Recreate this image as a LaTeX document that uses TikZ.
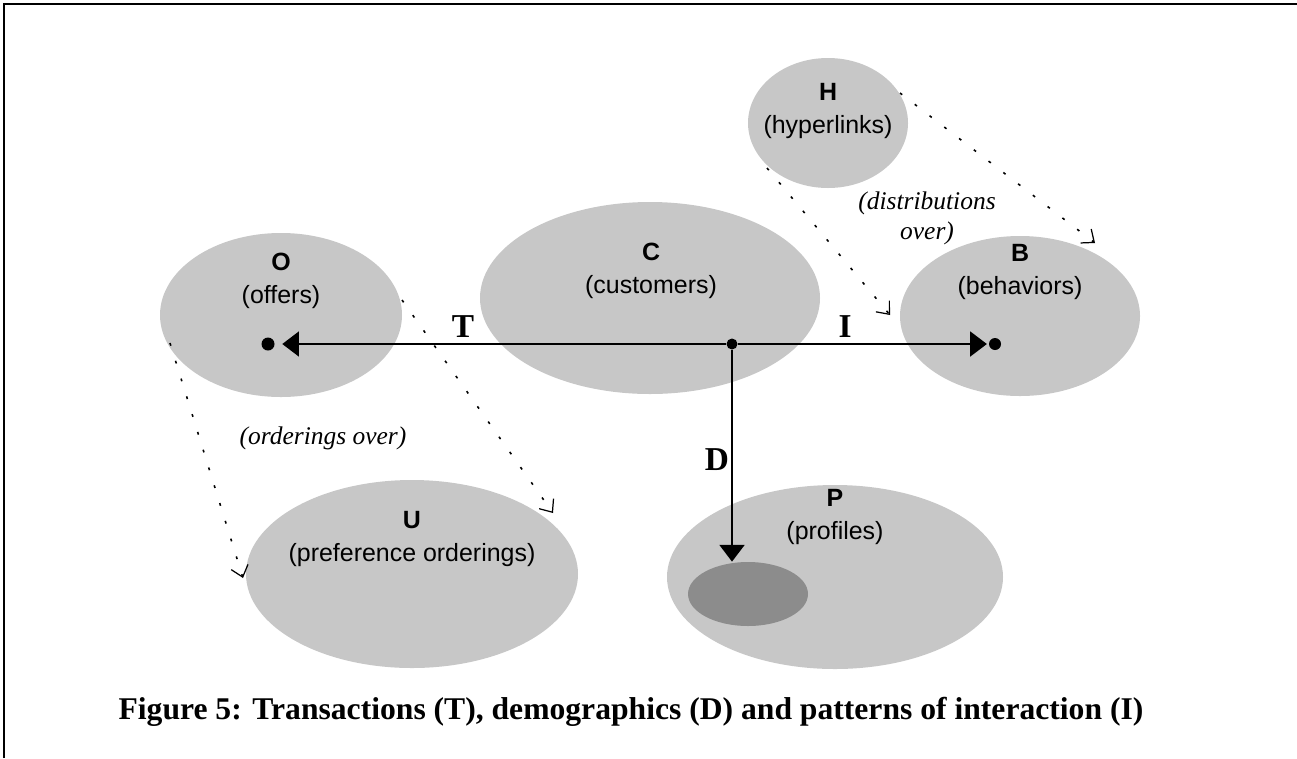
\documentclass[tikz,border=0pt]{standalone}
\usepackage{fontspec}
\setmainfont{Liberation Serif}
\setsansfont{Liberation Sans}
\usepackage{xcolor}
\usetikzlibrary{arrows.meta,shapes.geometric}

\definecolor{blobgray}{gray}{0.78}
\definecolor{coregray}{gray}{0.55}

\begin{document}
\begin{tikzpicture}[x=0.02cm,y=-0.02cm,>=Latex,
    blob/.style={ellipse,fill=blobgray,inner sep=0pt},
    setlbl/.style={font=\sffamily\fontsize{14.2}{18.7}\selectfont,align=center},
    overlbl/.style={font=\itshape\fontsize{14.5}{17}\selectfont,align=center},
    maplbl/.style={font=\bfseries\fontsize{19}{22}\selectfont},
    spot/.style={circle,fill=black,inner sep=0pt,minimum size=#1},
    mapto/.style={line width=1.6pt,-{Triangle[length=9.5pt,width=14pt]}},
    overarrow/.style={line width=0.9pt,dash pattern=on 1.6pt off 9pt,
      -{Straight Barb[length=6pt,width=10pt,line width=0.7pt]}}]
  \useasboundingbox (0,0) rectangle (1297,758);
  \draw[line width=1.1pt] (4,758) -- (4,4) -- (1297,4);

  % the sets
  \foreach \nm/\x/\y/\w/\h in {H/828/123/160/130, O/281/315/242/164,
      C/650/298/340/192, B/1020/316/240/160, U/412/574/332/188, P/835/577/336/184}
    \node[blob,minimum width=\w*0.02cm,minimum height=\h*0.02cm] (set\nm) at (\x,\y) {};
  \node[blob,fill=coregray,minimum width=2.4cm,minimum height=1.28cm] (core) at (748,594) {};

  \foreach \nm/\x/\y/\txt in {H/828/111/hyperlinks, O/281/281/offers,
      C/651/271/customers, B/1020/272/behaviors, U/412/539/preference orderings,
      P/835/517/profiles}
    \node[setlbl] (lab\nm) at (\x,\y) {\textbf{\nm}\\(\txt)};

  % the maps T, I and D
  \node[spot=0.22cm] (hub) at (732,344) {};
  \node[spot=0.26cm] (tipO) at (268,344) {};
  \node[spot=0.24cm] (tipB) at (995,344) {};
  \draw[mapto,shorten >=4.2pt] (hub) -- (tipO);
  \draw[mapto,shorten >=1pt] (hub) -- (tipB);
  \draw[mapto] (hub) -- (hub |- core.north);
  \node[maplbl] (labT) at (463,327) {T};
  \node[maplbl] (labI) at (845,327) {I};
  \node[maplbl] (labD) at (717,460) {D};

  % orderings / distributions
  \coordinate (ouA) at (402,300);
  \coordinate (ouB) at (553,513);
  \coordinate (ouC) at (170,343);
  \coordinate (ouD) at (243,578);
  \coordinate (hbA) at (900,93);
  \coordinate (hbB) at (1095,243);
  \coordinate (hbC) at (767,168);
  \coordinate (hbD) at (890,315);
  \draw[overarrow] (ouA) -- (ouB);
  \draw[overarrow] (ouC) -- (ouD);
  \draw[overarrow] (hbA) -- (hbB);
  \draw[overarrow] (hbC) -- (hbD);
  \node[overlbl] (ordlbl) at (323,438) {(orderings over)};
  \node[overlbl] (distlbl) at (927,218) {(distributions\\over)};

  \node[font=\bfseries\fontsize{18}{22}\selectfont] (caption) at (631,712)
    {Figure 5: Transactions (T), demographics (D) and patterns of interaction (I)};
\end{tikzpicture}
\end{document}
